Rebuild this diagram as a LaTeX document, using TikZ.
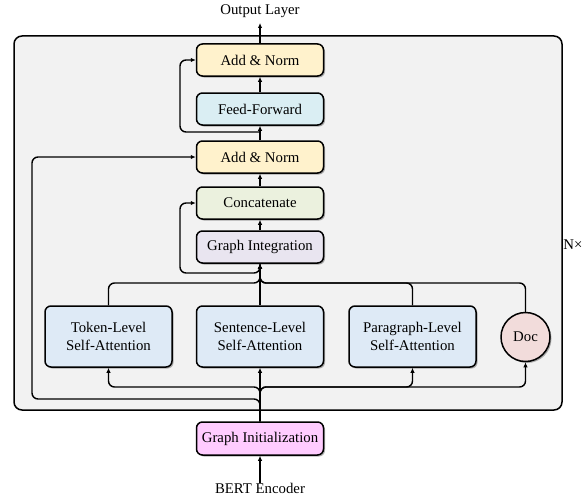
\documentclass[tikz,border=0pt]{standalone}
\usepackage{fontspec}
\setmainfont{Liberation Serif}
\usetikzlibrary{arrows.meta,shadows}
\definecolor{cAN}{HTML}{FFF2CC}
\definecolor{cFF}{HTML}{DAEEF3}
\definecolor{cCat}{HTML}{EBF1DE}
\definecolor{cGI}{HTML}{E9E5F0}
\definecolor{cAtt}{HTML}{DEEAF6}
\definecolor{cDoc}{HTML}{F2DCDB}
\definecolor{cInit}{HTML}{FFCCFF}
\definecolor{cBg}{HTML}{F2F2F2}
\begin{document}
\begin{tikzpicture}[x=1pt,y=-1pt,
  font=\fontsize{14.8}{18.5}\selectfont,
  shad/.style={drop shadow={shadow xshift=1.5pt,shadow yshift=-1.5pt,opacity=0.3,fill=black}},
  box/.style={draw,line width=1.5pt,rounded corners=6pt,minimum width=127pt,minimum height=32pt,inner sep=0pt,align=center,shad},
  attbox/.style={box,fill=cAtt,minimum height=61pt},
  conn/.style={line width=1.4pt,rounded corners=6pt},
  arr/.style={conn,-{Latex[length=5pt,width=4.5pt]}},
  lbl/.style={inner sep=0pt}
]
\useasboundingbox (0,0) rectangle (588,503);
\draw[fill=cBg,line width=1.5pt,rounded corners=8pt] (14,36) rectangle (562,410);

\node[box,fill=cAN] (an2) at (260,60) {Add \& Norm};
\node[box,fill=cFF] (ff) at (260,109) {Feed-Forward};
\node[box,fill=cAN] (an1) at (260,157) {Add \& Norm};
\node[box,fill=cCat] (cat) at (260,203) {Concatenate};
\node[box,fill=cGI] (gi) at (260,247) {Graph Integration};
\node[attbox] (tok) at (108.5,336.5) {Token-Level\\Self-Attention};
\node[attbox] (sen) at (260,336.5) {Sentence-Level\\Self-Attention};
\node[attbox] (par) at (412.5,336.5) {Paragraph-Level\\Self-Attention};
\node[circle,draw,line width=1.5pt,fill=cDoc,minimum size=49pt,inner sep=0pt,shad] (doc) at (525.5,337) {Doc};
\node[box,fill=cInit,minimum height=33pt] (ginit) at (260,438.5) {Graph Initialization};

\node[lbl] (out) at (260,11) {Output Layer};
\node[lbl] (bert) at (260,488) {BERT Encoder};
\node[lbl] (nx) at (573,245) {N×};

\coordinate (r1) at (260,132);
\coordinate (tb) at (260,283);
\coordinate (bb) at (260,387);

% top stack
\draw[arr] (an2.north) -- (260,23);
\draw[arr] (ff.north) -- (an2.south);
\draw[arr] (an1.north) -- (ff.south);
\draw[arr] (r1) -- (180,132) -- (180,60) -- (an2.west);
\draw[arr] (cat.north) -- (an1.south);
\draw[arr] (gi.north) -- (cat.south);
\draw[arr] (gi.south) -- (260,273) -- (180,273) -- (180,203) -- (cat.west);

% attention to integration
\draw[arr] (tok.north) -- (108.5,283) -- (tb) -- (gi.south);
\draw[arr] (sen.north) -- (gi.south);
\draw[arr] (par.north) -- (412.5,283) -- (tb) -- (gi.south);
\draw[arr] (doc.north) -- (525.5,283) -- (tb) -- (gi.south);

% initialization to attention
\draw[arr] (ginit.north) -- (bb) -- (108.5,387) -- (tok.south);
\draw[arr] (ginit.north) -- (sen.south);
\draw[arr] (ginit.north) -- (bb) -- (412.5,387) -- (par.south);
\draw[arr] (ginit.north) -- (bb) -- (525.5,387) -- (doc.south);
\draw[arr] (ginit.north) -- (260,399) -- (32,399) -- (32,157) -- (an1.west);

\draw[arr] (bert.north) -- (ginit.south);
\end{tikzpicture}
\end{document}
